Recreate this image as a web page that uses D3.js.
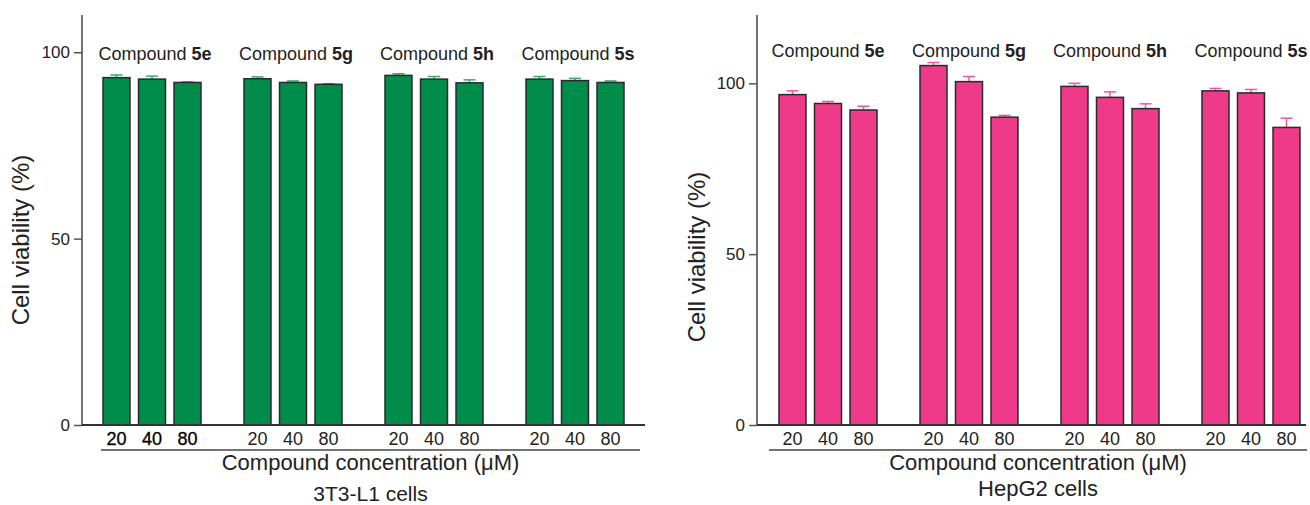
<!DOCTYPE html>
<html>
<head>
<meta charset="utf-8">
<script src="https://cdn.jsdelivr.net/npm/d3@7"></script>
<style>
  body { margin: 0; background: #fff; }
  svg { display: block; font-family: "Liberation Sans", Arial, sans-serif; }
</style>
</head>
<body>
<svg id="svg" width="1310" height="505"></svg>
<script>
// values
var compounds = ["5e", "5g", "5h", "5s"];
var concentrations = ["20", "40", "80"];

var l1Means = [93.2, 92.8, 91.9, 92.9, 91.9, 91.4, 93.8, 92.8, 91.8, 92.8, 92.4, 91.9];
var l1Errs  = [0.7, 0.8, 0.15, 0.5, 0.4, 0.15, 0.45, 0.7, 0.8, 0.7, 0.6, 0.4];

var hepMeans = [96.7, 94.1, 92.2, 105.2, 100.5, 90.1, 99.1, 95.9, 92.6, 97.8, 97.2, 87.1];
var hepErrs  = [1.1, 0.6, 1.1, 0.9, 1.5, 0.5, 0.9, 1.6, 1.4, 0.7, 1.0, 2.7];

var l1Ticks = [0, 50, 100];
var hepTicks = [0, 50, 100];

var svg = d3.select("#svg");

function panel(opts) {
  var g = svg.append("g");
  var y = d3.scaleLinear().domain([0, opts.ymax]).range([425, 15]);
  var x0 = d3.scaleBand().domain(compounds)
    .range([opts.x0, opts.x0 + 521]).paddingInner(43 / 141).paddingOuter(0);
  var x1 = d3.scaleBand().domain(concentrations)
    .range([0, x0.bandwidth()]).paddingInner(0.24).paddingOuter(0);

  var rows = [];
  compounds.forEach(function(c, i) {
    concentrations.forEach(function(k, j) {
      rows.push({c: c, k: k, v: opts.means[i * 3 + j], e: opts.errs[i * 3 + j]});
    });
  });
  var bx = function(d) { return x0(d.c) + x1(d.k); };

  // error bars (upper half only shows)
  var eb = g.append("g").attr("stroke", opts.errColor).attr("stroke-width", 1.5);
  eb.selectAll("line.v").data(rows).enter().append("line")
    .attr("x1", function(d) { return bx(d) + x1.bandwidth() / 2; })
    .attr("x2", function(d) { return bx(d) + x1.bandwidth() / 2; })
    .attr("y1", function(d) { return y(d.v); })
    .attr("y2", function(d) { return y(d.v + d.e); });
  eb.selectAll("line.c").data(rows).enter().append("line")
    .attr("x1", function(d) { return bx(d) + x1.bandwidth() / 2 - 6; })
    .attr("x2", function(d) { return bx(d) + x1.bandwidth() / 2 + 6; })
    .attr("y1", function(d) { return y(d.v + d.e); })
    .attr("y2", function(d) { return y(d.v + d.e); });

  g.selectAll("rect").data(rows).enter().append("rect")
    .attr("x", bx)
    .attr("y", function(d) { return y(d.v); })
    .attr("width", x1.bandwidth())
    .attr("height", function(d) { return y(0) - y(d.v); })
    .attr("fill", opts.fill)
    .attr("stroke", "#2a2a2a")
    .attr("stroke-width", 1.5);

  // y axis
  var ya = g.append("g").attr("transform", "translate(" + opts.axisX + ",0)")
    .call(d3.axisLeft(y).tickValues(opts.ticks).tickSize(8).tickPadding(4));
  ya.select(".domain").attr("stroke", "#444").attr("stroke-width", 1.5)
    .attr("d", "M0," + y(opts.ymax) + "V" + y(0));
  ya.selectAll(".tick line").attr("stroke", "#555").attr("stroke-width", 1.5);
  ya.selectAll(".tick text").attr("font-size", 17).attr("fill", "#222")
    .attr("font-family", "Liberation Sans, Arial, sans-serif");

  // baseline
  g.append("line").attr("x1", opts.axisX).attr("x2", opts.baseEnd)
    .attr("y1", y(0)).attr("y2", y(0)).attr("stroke", "#333").attr("stroke-width", 2);

  // concentration labels
  g.selectAll("text.conc").data(rows).enter().append("text")
    .attr("x", function(d) { return bx(d) + x1.bandwidth() / 2; })
    .attr("y", 445)
    .attr("text-anchor", "middle")
    .attr("font-size", 18)
    .attr("fill", function(d) { return (opts.boldFirst && d.c === "5e") ? "#000" : "#222"; })
    .attr("stroke", function(d) { return (opts.boldFirst && d.c === "5e") ? "#000" : "none"; })
    .attr("stroke-width", 0.3)
    .text(function(d) { return d.k; });

  // compound labels
  var cl = g.selectAll("text.cmp").data(compounds).enter().append("text")
    .attr("x", function(c) { return x0(c) + x0.bandwidth() / 2 + opts.labelDx; })
    .attr("y", opts.labelY)
    .attr("text-anchor", "middle")
    .attr("font-size", 18)
    .attr("fill", "#222");
  cl.append("tspan").text("Compound ");
  cl.append("tspan").attr("font-weight", "bold").text(function(c) { return c; });

  // underline + titles
  g.append("line").attr("x1", opts.ulStart).attr("x2", opts.ulEnd)
    .attr("y1", 450).attr("y2", 450).attr("stroke", "#444").attr("stroke-width", 1.5);
  var cx = (opts.ulStart + opts.ulEnd) / 2;
  g.append("text").attr("x", cx).attr("y", 470).attr("text-anchor", "middle")
    .attr("font-size", 22).attr("fill", "#222")
    .text("Compound concentration (\u03bcM)");
  g.append("text").attr("x", cx).attr("y", opts.cellY).attr("text-anchor", "middle")
    .attr("font-size", opts.cellSize).attr("fill", "#222")
    .text(opts.cells);

  g.append("text")
    .attr("transform", "translate(" + opts.ylabX + "," + opts.ylabY + ") rotate(-90)")
    .attr("text-anchor", "middle")
    .attr("font-size", 24).attr("fill", "#222")
    .text("Cell viability (%)");
}

panel({
  means: l1Means, errs: l1Errs, ticks: l1Ticks, ymax: 110,
  x0: 103, axisX: 82, baseEnd: 645, ulStart: 101, ulEnd: 640,
  fill: "#008c4a", errColor: "#2fae6c",
  labelY: 60, labelDx: 3, cells: "3T3-L1 cells", cellY: 501, cellSize: 21,
  ylabX: 29, ylabY: 240, boldFirst: true
});

panel({
  means: hepMeans, errs: hepErrs, ticks: hepTicks, ymax: 120,
  x0: 779, axisX: 757, baseEnd: 1306, ulStart: 769, ulEnd: 1307,
  fill: "#ee3a88", errColor: "#f0559c",
  labelY: 57, labelDx: 0, cells: "HepG2 cells", cellY: 496, cellSize: 22,
  ylabX: 705, ylabY: 257, boldFirst: false
});
</script>
</body>
</html>
